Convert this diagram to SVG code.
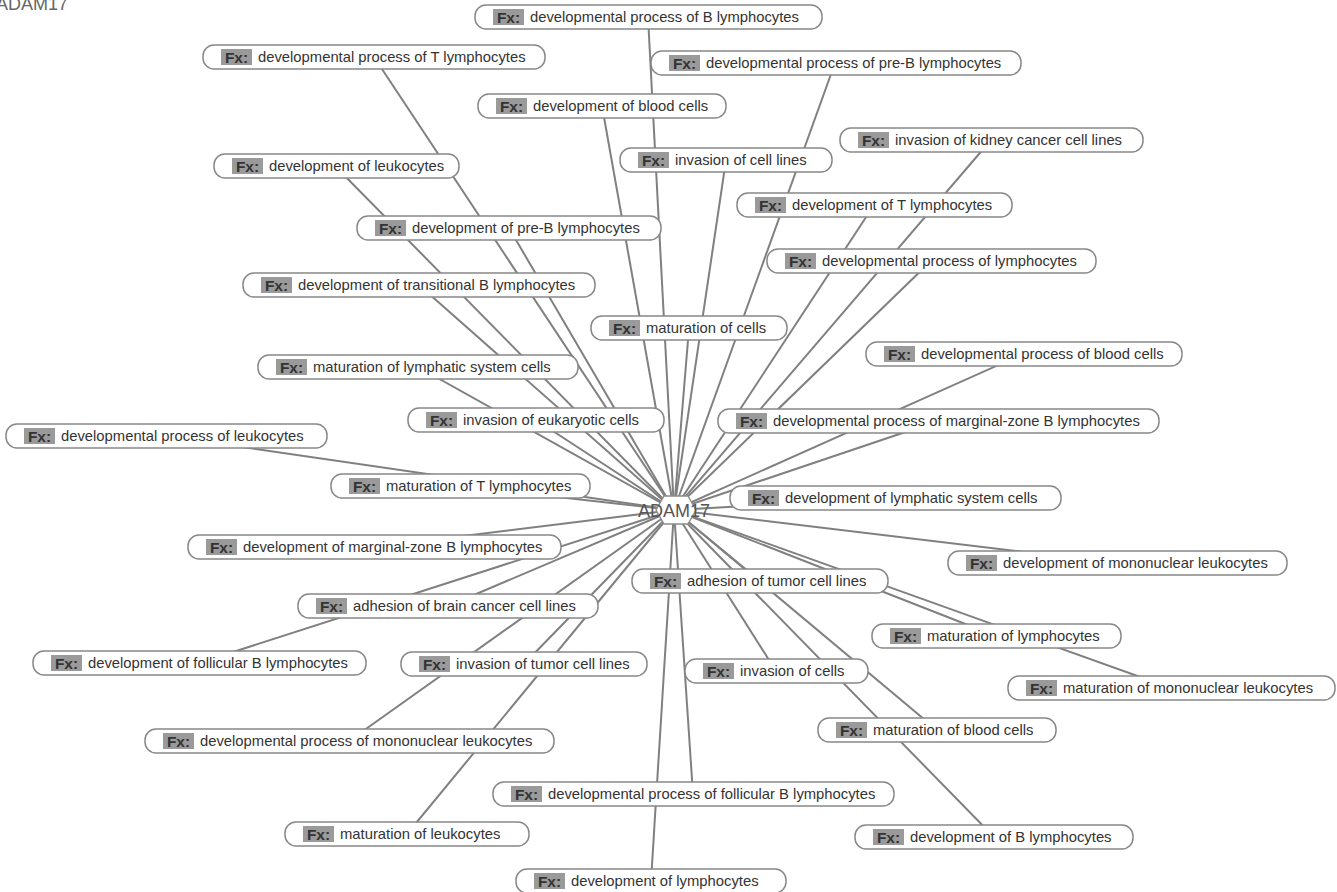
<svg xmlns="http://www.w3.org/2000/svg" width="1337" height="892" viewBox="0 0 1337 892">
<style>
.bg{fill:#ffffff}
.edge{stroke:#808080;stroke-width:2;fill:none}
.pill{fill:#ffffff;stroke:#888888;stroke-width:1.5}
.fxb{fill:#9a9a9a}
.fxt{font-family:"Liberation Sans",Arial,sans-serif;font-size:15.5px;font-weight:bold;fill:#333333;text-anchor:middle}
.lbl{font-family:"Liberation Sans",Arial,sans-serif;font-size:14.8px;fill:#333333}
.hub{fill:#ffffff;stroke:#8c8c8c;stroke-width:1.4}
.hubt{font-family:"Liberation Sans",Arial,sans-serif;font-size:18px;fill:#555555;text-anchor:middle}
.title{font-family:"Liberation Sans",Arial,sans-serif;font-size:18px;fill:#666666}
</style>
<rect class="bg" x="0" y="0" width="1337" height="892"/>
<text class="title" x="-4" y="10">ADAM17</text>
<g id="connectors">
<line class="edge" x1="674" y1="510" x2="648" y2="17"/>
<line class="edge" x1="674" y1="510" x2="374" y2="57"/>
<line class="edge" x1="674" y1="510" x2="835" y2="63"/>
<line class="edge" x1="674" y1="510" x2="602" y2="106"/>
<line class="edge" x1="674" y1="510" x2="991" y2="140"/>
<line class="edge" x1="674" y1="510" x2="335" y2="166"/>
<line class="edge" x1="674" y1="510" x2="726" y2="160"/>
<line class="edge" x1="674" y1="510" x2="874" y2="205"/>
<line class="edge" x1="674" y1="510" x2="509" y2="228"/>
<line class="edge" x1="674" y1="510" x2="931" y2="261"/>
<line class="edge" x1="674" y1="510" x2="419" y2="285"/>
<line class="edge" x1="674" y1="510" x2="689" y2="328"/>
<line class="edge" x1="674" y1="510" x2="1023" y2="354"/>
<line class="edge" x1="674" y1="510" x2="418" y2="367"/>
<line class="edge" x1="674" y1="510" x2="536" y2="420"/>
<line class="edge" x1="674" y1="510" x2="938" y2="421"/>
<line class="edge" x1="674" y1="510" x2="166" y2="436"/>
<line class="edge" x1="674" y1="510" x2="460" y2="486"/>
<line class="edge" x1="674" y1="510" x2="895" y2="498"/>
<line class="edge" x1="674" y1="510" x2="374" y2="547"/>
<line class="edge" x1="674" y1="510" x2="1117" y2="563"/>
<line class="edge" x1="674" y1="510" x2="760" y2="581"/>
<line class="edge" x1="674" y1="510" x2="448" y2="606"/>
<line class="edge" x1="674" y1="510" x2="996" y2="636"/>
<line class="edge" x1="674" y1="510" x2="199" y2="663"/>
<line class="edge" x1="674" y1="510" x2="524" y2="664"/>
<line class="edge" x1="674" y1="510" x2="776" y2="671"/>
<line class="edge" x1="674" y1="510" x2="1171" y2="688"/>
<line class="edge" x1="674" y1="510" x2="937" y2="730"/>
<line class="edge" x1="674" y1="510" x2="349" y2="741"/>
<line class="edge" x1="674" y1="510" x2="693" y2="794"/>
<line class="edge" x1="674" y1="510" x2="407" y2="834"/>
<line class="edge" x1="674" y1="510" x2="994" y2="837"/>
<line class="edge" x1="674" y1="510" x2="651" y2="881"/>
</g>
<g id="nodes">
<g id="n1"><rect class="pill" x="475" y="5" width="347" height="24" rx="11"/><rect class="fxb" x="493" y="9" width="31" height="16"/><text class="fxt" x="508.5" y="22.5">Fx:</text><text class="lbl" x="530" y="22">developmental process of B lymphocytes</text></g>
<g id="n2"><rect class="pill" x="203" y="45" width="342" height="24" rx="11"/><rect class="fxb" x="221" y="49" width="31" height="16"/><text class="fxt" x="236.5" y="62.5">Fx:</text><text class="lbl" x="258" y="62">developmental process of T lymphocytes</text></g>
<g id="n3"><rect class="pill" x="651" y="51" width="370" height="24" rx="11"/><rect class="fxb" x="669" y="55" width="31" height="16"/><text class="fxt" x="684.5" y="68.5">Fx:</text><text class="lbl" x="706" y="68">developmental process of pre-B lymphocytes</text></g>
<g id="n4"><rect class="pill" x="478" y="94" width="248" height="24" rx="11"/><rect class="fxb" x="496" y="98" width="31" height="16"/><text class="fxt" x="511.5" y="111.5">Fx:</text><text class="lbl" x="533" y="111">development of blood cells</text></g>
<g id="n5"><rect class="pill" x="840" y="128" width="303" height="24" rx="11"/><rect class="fxb" x="858" y="132" width="31" height="16"/><text class="fxt" x="873.5" y="145.5">Fx:</text><text class="lbl" x="895" y="145">invasion of kidney cancer cell lines</text></g>
<g id="n6"><rect class="pill" x="214" y="154" width="245" height="24" rx="11"/><rect class="fxb" x="232" y="158" width="31" height="16"/><text class="fxt" x="247.5" y="171.5">Fx:</text><text class="lbl" x="269" y="171">development of leukocytes</text></g>
<g id="n7"><rect class="pill" x="620" y="148" width="212" height="24" rx="11"/><rect class="fxb" x="638" y="152" width="31" height="16"/><text class="fxt" x="653.5" y="165.5">Fx:</text><text class="lbl" x="675" y="165">invasion of cell lines</text></g>
<g id="n8"><rect class="pill" x="737" y="193" width="275" height="24" rx="11"/><rect class="fxb" x="755" y="197" width="31" height="16"/><text class="fxt" x="770.5" y="210.5">Fx:</text><text class="lbl" x="792" y="210">development of T lymphocytes</text></g>
<g id="n9"><rect class="pill" x="357" y="216" width="304" height="24" rx="11"/><rect class="fxb" x="375" y="220" width="31" height="16"/><text class="fxt" x="390.5" y="233.5">Fx:</text><text class="lbl" x="412" y="233">development of pre-B lymphocytes</text></g>
<g id="n10"><rect class="pill" x="767" y="249" width="329" height="24" rx="11"/><rect class="fxb" x="785" y="253" width="31" height="16"/><text class="fxt" x="800.5" y="266.5">Fx:</text><text class="lbl" x="822" y="266">developmental process of lymphocytes</text></g>
<g id="n11"><rect class="pill" x="243" y="273" width="352" height="24" rx="11"/><rect class="fxb" x="261" y="277" width="31" height="16"/><text class="fxt" x="276.5" y="290.5">Fx:</text><text class="lbl" x="298" y="290">development of transitional B lymphocytes</text></g>
<g id="n12"><rect class="pill" x="591" y="316" width="196" height="24" rx="11"/><rect class="fxb" x="609" y="320" width="31" height="16"/><text class="fxt" x="624.5" y="333.5">Fx:</text><text class="lbl" x="646" y="333">maturation of cells</text></g>
<g id="n13"><rect class="pill" x="866" y="342" width="316" height="24" rx="11"/><rect class="fxb" x="884" y="346" width="31" height="16"/><text class="fxt" x="899.5" y="359.5">Fx:</text><text class="lbl" x="921" y="359">developmental process of blood cells</text></g>
<g id="n14"><rect class="pill" x="258" y="355" width="320" height="24" rx="11"/><rect class="fxb" x="276" y="359" width="31" height="16"/><text class="fxt" x="291.5" y="372.5">Fx:</text><text class="lbl" x="313" y="372">maturation of lymphatic system cells</text></g>
<g id="n15"><rect class="pill" x="408" y="408" width="256" height="24" rx="11"/><rect class="fxb" x="426" y="412" width="31" height="16"/><text class="fxt" x="441.5" y="425.5">Fx:</text><text class="lbl" x="463" y="425">invasion of eukaryotic cells</text></g>
<g id="n16"><rect class="pill" x="718" y="409" width="441" height="24" rx="11"/><rect class="fxb" x="736" y="413" width="31" height="16"/><text class="fxt" x="751.5" y="426.5">Fx:</text><text class="lbl" x="773" y="426">developmental process of marginal-zone B lymphocytes</text></g>
<g id="n17"><rect class="pill" x="6" y="424" width="321" height="24" rx="11"/><rect class="fxb" x="24" y="428" width="31" height="16"/><text class="fxt" x="39.5" y="441.5">Fx:</text><text class="lbl" x="61" y="441">developmental process of leukocytes</text></g>
<g id="n18"><rect class="pill" x="331" y="474" width="259" height="24" rx="11"/><rect class="fxb" x="349" y="478" width="31" height="16"/><text class="fxt" x="364.5" y="491.5">Fx:</text><text class="lbl" x="386" y="491">maturation of T lymphocytes</text></g>
<g id="n19"><rect class="pill" x="730" y="486" width="331" height="24" rx="11"/><rect class="fxb" x="748" y="490" width="31" height="16"/><text class="fxt" x="763.5" y="503.5">Fx:</text><text class="lbl" x="785" y="503">development of lymphatic system cells</text></g>
<g id="n20"><rect class="pill" x="188" y="535" width="373" height="24" rx="11"/><rect class="fxb" x="206" y="539" width="31" height="16"/><text class="fxt" x="221.5" y="552.5">Fx:</text><text class="lbl" x="243" y="552">development of marginal-zone B lymphocytes</text></g>
<g id="n21"><rect class="pill" x="948" y="551" width="339" height="24" rx="11"/><rect class="fxb" x="966" y="555" width="31" height="16"/><text class="fxt" x="981.5" y="568.5">Fx:</text><text class="lbl" x="1003" y="568">development of mononuclear leukocytes</text></g>
<g id="n22"><rect class="pill" x="632" y="569" width="256" height="24" rx="11"/><rect class="fxb" x="650" y="573" width="31" height="16"/><text class="fxt" x="665.5" y="586.5">Fx:</text><text class="lbl" x="687" y="586">adhesion of tumor cell lines</text></g>
<g id="n23"><rect class="pill" x="298" y="594" width="300" height="24" rx="11"/><rect class="fxb" x="316" y="598" width="31" height="16"/><text class="fxt" x="331.5" y="611.5">Fx:</text><text class="lbl" x="353" y="611">adhesion of brain cancer cell lines</text></g>
<g id="n24"><rect class="pill" x="872" y="624" width="249" height="24" rx="11"/><rect class="fxb" x="890" y="628" width="31" height="16"/><text class="fxt" x="905.5" y="641.5">Fx:</text><text class="lbl" x="927" y="641">maturation of lymphocytes</text></g>
<g id="n25"><rect class="pill" x="33" y="651" width="333" height="24" rx="11"/><rect class="fxb" x="51" y="655" width="31" height="16"/><text class="fxt" x="66.5" y="668.5">Fx:</text><text class="lbl" x="88" y="668">development of follicular B lymphocytes</text></g>
<g id="n26"><rect class="pill" x="401" y="652" width="246" height="24" rx="11"/><rect class="fxb" x="419" y="656" width="31" height="16"/><text class="fxt" x="434.5" y="669.5">Fx:</text><text class="lbl" x="456" y="669">invasion of tumor cell lines</text></g>
<g id="n27"><rect class="pill" x="685" y="659" width="183" height="24" rx="11"/><rect class="fxb" x="703" y="663" width="31" height="16"/><text class="fxt" x="718.5" y="676.5">Fx:</text><text class="lbl" x="740" y="676">invasion of cells</text></g>
<g id="n28"><rect class="pill" x="1008" y="676" width="327" height="24" rx="11"/><rect class="fxb" x="1026" y="680" width="31" height="16"/><text class="fxt" x="1041.5" y="693.5">Fx:</text><text class="lbl" x="1063" y="693">maturation of mononuclear leukocytes</text></g>
<g id="n29"><rect class="pill" x="818" y="718" width="238" height="24" rx="11"/><rect class="fxb" x="836" y="722" width="31" height="16"/><text class="fxt" x="851.5" y="735.5">Fx:</text><text class="lbl" x="873" y="735">maturation of blood cells</text></g>
<g id="n30"><rect class="pill" x="145" y="729" width="409" height="24" rx="11"/><rect class="fxb" x="163" y="733" width="31" height="16"/><text class="fxt" x="178.5" y="746.5">Fx:</text><text class="lbl" x="200" y="746">developmental process of mononuclear leukocytes</text></g>
<g id="n31"><rect class="pill" x="493" y="782" width="401" height="24" rx="11"/><rect class="fxb" x="511" y="786" width="31" height="16"/><text class="fxt" x="526.5" y="799.5">Fx:</text><text class="lbl" x="548" y="799">developmental process of follicular B lymphocytes</text></g>
<g id="n32"><rect class="pill" x="285" y="822" width="244" height="24" rx="11"/><rect class="fxb" x="303" y="826" width="31" height="16"/><text class="fxt" x="318.5" y="839.5">Fx:</text><text class="lbl" x="340" y="839">maturation of leukocytes</text></g>
<g id="n33"><rect class="pill" x="855" y="825" width="278" height="24" rx="11"/><rect class="fxb" x="873" y="829" width="31" height="16"/><text class="fxt" x="888.5" y="842.5">Fx:</text><text class="lbl" x="910" y="842">development of B lymphocytes</text></g>
<g id="n34"><rect class="pill" x="516" y="869" width="270" height="24" rx="11"/><rect class="fxb" x="534" y="873" width="31" height="16"/><text class="fxt" x="549.5" y="886.5">Fx:</text><text class="lbl" x="571" y="886">development of lymphocytes</text></g>
<g id="hub"><polygon class="hub" points="656,510 664,496 688,496 696,510 688,524 664,524"/><text class="hubt" x="674" y="517">ADAM17</text></g>
</g>
</svg>
